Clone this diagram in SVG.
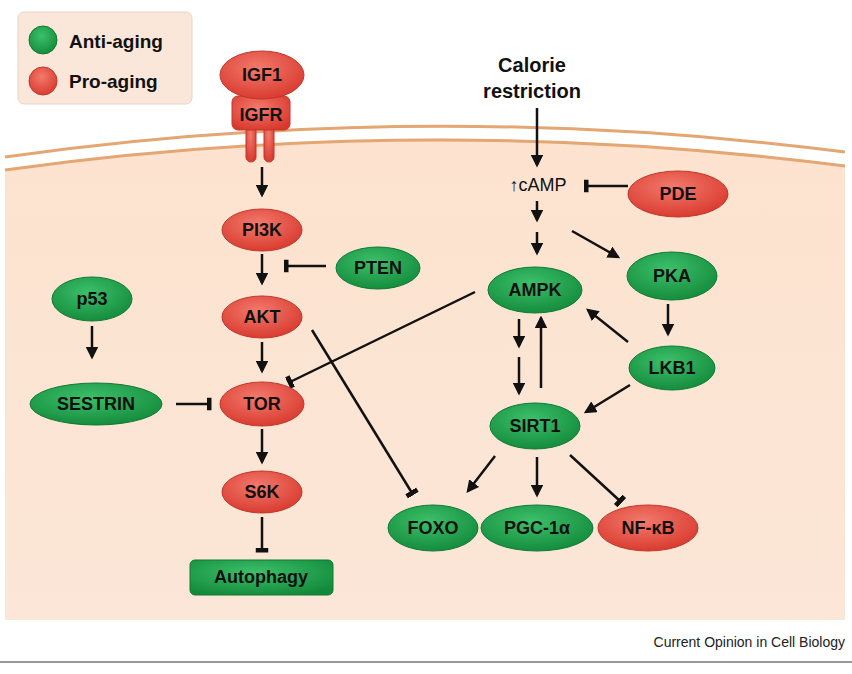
<svg xmlns="http://www.w3.org/2000/svg" width="852" height="674" viewBox="0 0 852 674">
<defs>
<radialGradient id="gr" cx="0.45" cy="0.35" r="0.7"><stop offset="0" stop-color="#f27a6c"/><stop offset="1" stop-color="#d8372c"/></radialGradient>
<radialGradient id="gg" cx="0.45" cy="0.35" r="0.7"><stop offset="0" stop-color="#3cc06a"/><stop offset="1" stop-color="#12893a"/></radialGradient>
<linearGradient id="bg" x1="0" y1="0" x2="0" y2="1"><stop offset="0" stop-color="#fde3cf"/><stop offset="1" stop-color="#fbe6d7"/></linearGradient>
<marker id="ar" viewBox="0 0 10 10" refX="8" refY="5" markerWidth="5" markerHeight="5" orient="auto"><path d="M0,0L10,5L0,10z" fill="#111"/></marker>
<marker id="bar" viewBox="0 0 4 10" refX="2" refY="5" markerWidth="2" markerHeight="8" orient="auto"><rect x="0" y="0" width="4" height="10" fill="#111"/></marker>
</defs>
<style>
.r{fill:url(#gr);stroke:#c2362a;stroke-width:1}
.g{fill:url(#gg);stroke:#0e7a33;stroke-width:1}
.t{font-family:"Liberation Sans",Arial,sans-serif;font-weight:bold;font-size:18px;fill:#111;text-anchor:middle;dominant-baseline:central}
.a{stroke:#111;stroke-width:2.5;fill:none;marker-end:url(#ar)}
.i{stroke:#111;stroke-width:2.5;fill:none;marker-end:url(#bar)}
.m{stroke:#e4a672;stroke-width:3;fill:none}
</style>
<rect width="852" height="674" fill="#fff"/>
<path d="M5,170 Q425,110 845,165 L845,620 L5,620 Z" fill="url(#bg)"/>
<path class="m" d="M5,157 Q425,98 845,152"/>
<path class="m" d="M5,170 Q425,112 845,166"/>
<g id="legend">
<rect x="18" y="12" width="174" height="92" rx="6" fill="#fbe7da" stroke="#e8d4c6"/>
<circle cx="43" cy="40" r="14" class="g"/>
<circle cx="43" cy="81" r="14" class="r"/>
<text x="69" y="41" class="t" style="text-anchor:start;font-size:19px">Anti-aging</text>
<text x="69" y="81" class="t" style="text-anchor:start;font-size:19px">Pro-aging</text>
</g>
<g id="connectors">
<path class="a" d="M262,167V195"/>
<path class="a" d="M262,254V283"/>
<path class="i" d="M326,266H286"/>
<path class="a" d="M262,342V371"/>
<path class="a" d="M92,326V357"/>
<path class="i" d="M176,404H209"/>
<path class="a" d="M262,429V462"/>
<path class="i" d="M262,517V550"/>
<path class="i" d="M312,330L412,493"/>
<path class="i" d="M475,292L290,382"/>
<path class="a" d="M537,108V165"/>
<path class="a" d="M537,201V220"/>
<path class="a" d="M537,232V253"/>
<path class="a" d="M572,231L618,257"/>
<path class="i" d="M628,186H586"/>
<path class="a" d="M519,319V346"/>
<path class="a" d="M519,357V393"/>
<path class="a" d="M541,388V318"/>
<path class="a" d="M668,304V334"/>
<path class="a" d="M628,342L588,310"/>
<path class="a" d="M630,385L586,412"/>
<path class="a" d="M495,456L468,491"/>
<path class="a" d="M537,457V495"/>
<path class="i" d="M570,455L620,501"/>
</g>
<g id="igfr"><rect x="246" y="120" width="10" height="42" rx="5" class="r"/><rect x="264" y="120" width="10" height="42" rx="5" class="r"/><rect x="232" y="96" width="58" height="34" rx="6" class="r"/><text x="261" y="115" class="t">IGFR</text></g>
<g id="igf1"><ellipse cx="262" cy="75" rx="42" ry="24" class="r"/><text x="262" y="75" class="t">IGF1</text></g>
<g id="pi3k"><ellipse cx="262" cy="230" rx="40" ry="21" class="r"/><text x="262" y="230" class="t">PI3K</text></g>
<g id="pten"><ellipse cx="378" cy="268" rx="42" ry="21" class="g"/><text x="378" y="268" class="t">PTEN</text></g>
<g id="akt"><ellipse cx="262" cy="317" rx="40" ry="21" class="r"/><text x="262" y="317" class="t">AKT</text></g>
<g id="p53"><ellipse cx="92" cy="299" rx="40" ry="22" class="g"/><text x="92" y="299" class="t">p53</text></g>
<g id="sestrin"><ellipse cx="96" cy="404" rx="66" ry="21" class="g"/><text x="96" y="404" class="t">SESTRIN</text></g>
<g id="tor"><ellipse cx="262" cy="404" rx="42" ry="22" class="r"/><text x="262" y="404" class="t">TOR</text></g>
<g id="s6k"><ellipse cx="262" cy="492" rx="40" ry="21" class="r"/><text x="262" y="492" class="t">S6K</text></g>
<g id="autophagy"><rect x="190" y="560" width="143" height="35" rx="5" class="g"/><text x="261" y="577" class="t">Autophagy</text></g>
<g id="calorie"><text x="532" y="65" class="t" style="font-size:20px">Calorie</text><text x="532" y="91" class="t" style="font-size:20px">restriction</text></g>
<g id="camp"><text x="538" y="185" class="t" style="font-weight:normal;font-size:18px">↑cAMP</text></g>
<g id="pde"><ellipse cx="678" cy="194" rx="50" ry="23" class="r"/><text x="678" y="194" class="t">PDE</text></g>
<g id="ampk"><ellipse cx="535" cy="290" rx="47" ry="23" class="g"/><text x="535" y="290" class="t">AMPK</text></g>
<g id="pka"><ellipse cx="672" cy="276" rx="45" ry="24" class="g"/><text x="672" y="276" class="t">PKA</text></g>
<g id="lkb1"><ellipse cx="672" cy="368" rx="43" ry="22" class="g"/><text x="672" y="368" class="t">LKB1</text></g>
<g id="sirt1"><ellipse cx="535" cy="426" rx="45" ry="23" class="g"/><text x="535" y="426" class="t">SIRT1</text></g>
<g id="foxo"><ellipse cx="433" cy="528" rx="45" ry="23" class="g"/><text x="433" y="528" class="t">FOXO</text></g>
<g id="pgc1a"><ellipse cx="537" cy="528" rx="56" ry="23" class="g"/><text x="537" y="528" class="t">PGC-1α</text></g>
<g id="nfkb"><ellipse cx="648" cy="528" rx="50" ry="23" class="r"/><text x="648" y="528" class="t">NF-κB</text></g>
<text x="845" y="647" style="font-family:'Liberation Sans',Arial,sans-serif;font-size:14px;fill:#222;text-anchor:end">Current Opinion in Cell Biology</text>
<line x1="0" y1="662" x2="852" y2="662" stroke="#333" stroke-width="1"/>
</svg>
